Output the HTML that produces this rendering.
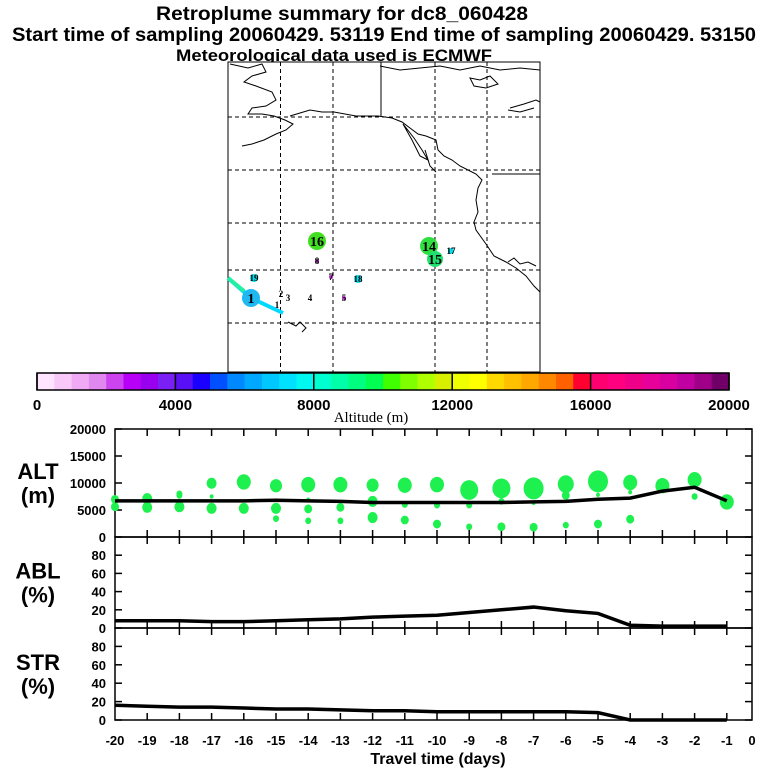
<!DOCTYPE html>
<html><head><meta charset="utf-8"><style>
html,body{margin:0;padding:0;background:#fff;}
svg{display:block;font-family:"Liberation Sans",sans-serif;}
</style></head><body>
<svg id="chart" width="768" height="768" viewBox="0 0 768 768">
<g id="titles" font-weight="bold" fill="#000">
<text x="156" y="20" font-size="19" textLength="372" lengthAdjust="spacingAndGlyphs">Retroplume summary for dc8_060428</text>
<text x="12" y="41" font-size="19" textLength="744" lengthAdjust="spacingAndGlyphs">Start time of sampling 20060429. 53119     End time of sampling 20060429. 53150</text>
<text x="176" y="61" font-size="17" textLength="316" lengthAdjust="spacingAndGlyphs">Meteorological data used is ECMWF</text>
</g>
<g id="map">
<rect x="228" y="62" width="312" height="310" fill="#fff" stroke="#000" stroke-width="1"/>
<g stroke="#000" stroke-width="1" stroke-dasharray="4,3">
<line x1="280.5" y1="62" x2="280.5" y2="372"/><line x1="333" y1="62" x2="333" y2="372"/><line x1="435" y1="62" x2="435" y2="372"/><line x1="487" y1="62" x2="487" y2="372"/>
<line x1="228" y1="117" x2="540" y2="117"/><line x1="228" y1="170" x2="540" y2="170"/><line x1="228" y1="223" x2="540" y2="223"/><line x1="228" y1="270" x2="540" y2="270"/><line x1="228" y1="323" x2="540" y2="323"/>
</g>
<g fill="none" stroke="#000" stroke-width="1">
<line x1="381" y1="62" x2="381" y2="117"/>
<line x1="492" y1="174" x2="540" y2="174"/>
<path d="M230,64 L248,68 L262,64 L266,72 L252,76 L244,82 L256,86 L272,92 L276,100 L266,106 L252,108 L248,114 L262,114 L274,116 L285,120 L293,124 L286,130 L276,134 L264,140 L252,144 L242,146"/>
<path d="M290,116 L300,113 L310,110 L322,112 L334,112 L356,116 L378,116 L392,118 L402,122 L410,128 L418,134 L426,136 L436,140 L438,150 L444,156 L452,160 L460,166 L468,170 L476,174 L482,180 L478,188 L476,200 L478,212 L474,222 L476,230 L486,244 L494,256 L506,262 L516,268 L526,276 L534,286 L540,292"/>
<path d="M403,124 L412,140 L420,156 L428,160 L422,150 L414,138 Z"/>
<path d="M425,150 L430,166 L436,172"/>
<path d="M470,78 L480,80 L490,76 L498,84 L486,88 L474,86 Z"/>
<path d="M510,108 L524,104 L536,100 L540,102 M508,110 L520,112 L534,108"/>
<path d="M380,66 L400,70 L420,68 L440,66 L460,70 L480,66 L500,70 L520,68 L540,70"/>
<path d="M288,322 L296,326 L300,322 L306,328 L302,332"/>
<path d="M508,262 L514,258 L520,264 L528,262 L536,266"/>
</g>
<g id="map-marks"></g>
</g>
<g id="colorbar"></g>
<g id="panels"></g>
</svg>
<script>
const NS="http://www.w3.org/2000/svg";
function mk(tag,attrs,parent,txt){const e=document.createElementNS(NS,tag);for(const k in attrs)e.setAttribute(k,attrs[k]);if(txt!==undefined)e.textContent=txt;parent.appendChild(e);return e;}

// ---- colorbar data ----
const cbColors=["#ffe5ff","#f8c8f8","#f0aaf5","#e088f0","#cc44f0","#b800f8","#9900f0","#7a20f5",
"#5a10f5","#1a00ff","#0050ff","#0088ff","#00a8ff","#00c8ff","#00e0ff","#00f8f0",
"#00ffd0","#00ffa8","#00ff80","#00ff50","#40ff00","#80ff00","#b0ff00","#d8f000",
"#f0ff00","#ffff00","#ffd800","#ffc000","#ffa800","#ff8800","#ff6000","#ff0030",
"#ff0070","#ff0080","#f00088","#e8009a","#d800a0","#c000a0","#a00088","#700068"];
const cbTicks=[0,4000,8000,12000,16000,20000];
const cb=document.getElementById('colorbar');
const cbX=a=>37+a/20000*692;
cbColors.forEach((c,i)=>{
  const r=mk('rect',{x:cbX(i*500),y:373,width:692/40+0.3,height:17,fill:c},cb);
  
  
});
mk('rect',{x:37,y:373,width:692,height:17,fill:'none',stroke:'#000','stroke-width':1.5},cb);
cbTicks.forEach(t=>{
  mk('line',{x1:cbX(t),y1:373,x2:cbX(t),y2:390,stroke:'#000','stroke-width':1.5},cb);
  const tx=mk('text',{x:cbX(t),y:410,'font-size':15,'font-weight':'bold','text-anchor':'middle'},cb,String(t));
  
  
});
const cbt=mk('text',{x:371,y:422,'font-size':15,'text-anchor':'middle','font-family':'"Liberation Serif",serif'},cb,'Altitude (m)');



// ---- map marks ----
const mm=document.getElementById('map-marks');
mk('polyline',{points:'228,278 251,298 283,313',fill:'none',stroke:'#00d8ff','stroke-width':4},mm);
mk('line',{x1:228,y1:278,x2:244,y2:291,stroke:'#20f0a0','stroke-width':4},mm);
const mapLabels=["1","16","14","15","17","19","18","8","7","2","3","4","5","1"];
const mapLx=[251,317,429,435,451,254,358,317,331,281,288,310,344,277];
const mapLy=[298,241,246,259,251,278,279,261,277,294,298,298,298,305];
const mapR=[9,9,9,8,3,4,4,2,2,0,0,0,2,0];
const mapC=["#20b8f0","#40e020","#30e040","#20e070","#00e0f0","#00e0f0","#00e0f0","#c030d0","#c030d0","#000","#000","#000","#c030d0","#000"];
mapLabels.forEach((l,i)=>{
  if(mapR[i]>0){const c=mk('circle',{cx:mapLx[i],cy:mapLy[i],r:mapR[i],fill:mapC[i]},mm);
    
    }
  const big=mapR[i]>=8;
  const t=mk('text',{x:mapLx[i],y:mapLy[i]+(big?5:3),'font-size':big?14:9,'font-weight':'bold','text-anchor':'middle','font-family':'"Liberation Serif",serif'},mm,l);
  
  
});

// ---- panels ----
const days=[-20,-19,-18,-17,-16,-15,-14,-13,-12,-11,-10,-9,-8,-7,-6,-5,-4,-3,-2,-1];
const altLine=[6700,6700,6700,6700,6700,6800,6700,6600,6400,6400,6400,6400,6400,6500,6600,7000,7200,8500,9200,6700];
const ablLine=[8,8,8,7,7,8,9,10,12,13,14,17,20,23,19,16,3,2,2,2];
const strLine=[16,15,14,14,13,12,12,11,10,10,9,9,9,9,9,8,0,0,0,0];
const dotT=[-20,-20,-19,-19,-18,-18,-18,-17,-17,-17,-16,-16,-15,-15,-15,-14,-14,-14,-14,-13,-13,-13,-12,-12,-12,-11,-11,-11,-10,-10,-10,-9,-9,-9,-8,-8,-8,-7,-7,-7,-6,-6,-6,-5,-5,-5,-4,-4,-4,-3,-2,-2,-1];
const dotAlt=[6970,5600,7100,5500,8000,7700,5600,9950,7500,5300,10200,5300,9500,5300,3400,9700,6900,5200,3000,9700,5500,3000,9600,6600,3600,9600,6000,3150,9700,5900,2400,8700,5900,1900,9000,6600,1900,9000,6300,1800,9800,7700,2200,10300,7800,2400,10100,8300,3300,9500,10600,7500,6500];
const dotSize=[4,4,5,5,3,3,5,5,2,5,7,5,6,5,3,7,2,4,3,7,4,3,6,5,5,7,3,4,7,3,4,9,3,3,9,3,4,10,2,4,8,4,3,10,2,4,7,2,4,7,7,3,7];
const xTicks=[-20,-19,-18,-17,-16,-15,-14,-13,-12,-11,-10,-9,-8,-7,-6,-5,-4,-3,-2,-1,0];

const P=document.getElementById('panels');
const X0=115,X1=752;
const xS=t=>t===0?X1:X0+(t+20)*32.2;
function panel(name,top,bot,ymax,ticks,l1,l2){
  const g=mk('g',{},P);
  
  
  const yS=v=>bot-v/ymax*(bot-top);
  mk('rect',{x:X0,y:top,width:X1-X0,height:bot-top,fill:'none',stroke:'#000','stroke-width':1.5},g);
  xTicks.forEach(t=>{if(t===-20||t===0)return;
    mk('line',{x1:xS(t),y1:top,x2:xS(t),y2:top+7,stroke:'#000','stroke-width':1.5},g);
    mk('line',{x1:xS(t),y1:bot,x2:xS(t),y2:bot-7,stroke:'#000','stroke-width':1.5},g);});
  ticks.forEach(v=>{
    mk('line',{x1:X0,y1:yS(v),x2:X0+7,y2:yS(v),stroke:'#000','stroke-width':1.5},g);
    mk('line',{x1:X1,y1:yS(v),x2:X1-7,y2:yS(v),stroke:'#000','stroke-width':1.5},g);
    const t=mk('text',{x:X0-9,y:yS(v)+5,'font-size':13,'font-weight':'bold','text-anchor':'end'},g,String(v));
    
    
  });
  const a=mk('text',{x:38,y:(top+bot)/2-4,'font-size':22,'font-weight':'bold','text-anchor':'middle'},g,l1);
  
  
  const b=mk('text',{x:38,y:(top+bot)/2+20,'font-size':22,'font-weight':'bold','text-anchor':'middle'},g,l2);
  
  
  return {g,yS};
}
const alt=panel('alt',429,537,20000,[0,5000,10000,15000,20000],'ALT','(m)');
dotT.forEach((t,i)=>{
  const c=mk('ellipse',{cx:xS(t),cy:alt.yS(dotAlt[i]),rx:dotSize[i],ry:dotSize[i]*1.1,fill:'#1ef050'},alt.g);
  
  
});
function line(p,vals,name){
  const l=mk('polyline',{points:days.map((d,i)=>xS(d)+','+p.yS(vals[i])).join(' '),fill:'none',stroke:'#000','stroke-width':3.5},p.g);
  
  
}
line(alt,altLine,'alt-mean-line');
const abl=panel('abl',537,628,100,[0,20,40,60,80],'ABL','(%)');
line(abl,ablLine,'abl-line');
const str=panel('str',628,720,100,[0,20,40,60,80],'STR','(%)');
line(str,strLine,'str-line');
xTicks.forEach(t=>{
  const tx=mk('text',{x:xS(t),y:745,'font-size':13,'font-weight':'bold','text-anchor':'middle'},P,String(t));
  
  
});
const xt=mk('text',{x:438,y:764,'font-size':16,'font-weight':'bold','text-anchor':'middle'},P,'Travel time (days)');


</script>
</body></html>
